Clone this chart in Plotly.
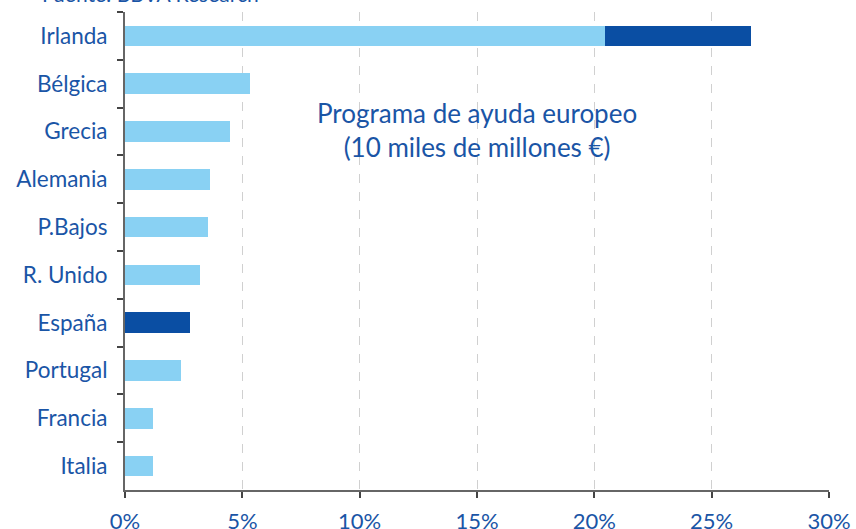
import plotly.graph_objects as go

countries = ["Irlanda", "Bélgica", "Grecia", "Alemania", "P.Bajos", "R. Unido",
             "España", "Portugal", "Francia", "Italia"]
base_pct = [20.45, 5.32, 4.48, 3.63, 3.55, 3.21, 0.0, 2.37, 1.19, 1.19]
highlight_pct = [6.22, 0.0, 0.0, 0.0, 0.0, 0.0, 2.78, 0.0, 0.0, 0.0]
x_ticks = [0, 5, 10, 15, 20, 25, 30]
x_tick_labels = ["0%", "5%", "10%", "15%", "20%", "25%", "30%"]

BLUE_TEXT = "#1a55a6"
LIGHT = "#89d1f3"
DARK = "#0a4ea3"
FONT = "Lato"

fig = go.Figure()
fig.add_trace(go.Bar(y=countries, x=base_pct, orientation="h",
                     marker=dict(color=LIGHT, line=dict(width=0)), width=0.43,
                     hoverinfo="x+y"))
fig.add_trace(go.Bar(y=countries, x=highlight_pct, orientation="h",
                     marker=dict(color=DARK, line=dict(width=0)), width=0.43,
                     hoverinfo="x+y"))

fig.update_layout(
    barmode="stack",
    width=856, height=529,
    margin=dict(l=125, r=27, t=12, b=39),
    plot_bgcolor="white", paper_bgcolor="white",
    showlegend=False,
    font=dict(family=FONT, color=BLUE_TEXT, size=22),
    xaxis=dict(range=[0, 30], tickvals=x_ticks, ticktext=x_tick_labels,
               automargin=False,
               showgrid=True, gridcolor="#d0d0d0", griddash="dash", gridwidth=1,
               zeroline=False, showline=True, linecolor="#666666", linewidth=2,
               ticks="outside", ticklen=6, tickcolor="#444444", tickwidth=1.5,
               ticklabelstandoff=5,
               tickfont=dict(family=FONT, size=22, color=BLUE_TEXT)),
    yaxis=dict(categoryorder="array", categoryarray=countries, autorange="reversed",
               automargin=False,
               showline=True, linecolor="#666666", linewidth=2,
               ticks="outside", tickson="boundaries", ticklen=6,
               tickcolor="#444444", tickwidth=1.5, showgrid=False,
               ticklabelstandoff=11,
               tickfont=dict(family=FONT, size=22.5, color=BLUE_TEXT)),
    annotations=[
        dict(text="Programa de ayuda europeo<br>(10 miles de millones €)",
             x=15.0, y=1.97, xref="x", yref="y", showarrow=False,
             font=dict(family=FONT, size=26, color=BLUE_TEXT), align="center"),
        dict(text="Fuente: BBVA Research", x=-85/704, xref="paper", xanchor="left",
             y=1, yref="paper", yanchor="bottom", yshift=4, showarrow=False,
             font=dict(family=FONT, size=21, color=BLUE_TEXT)),
    ],
)

fig.write_html("out.html",
               config={"displayModeBar": False},
               post_script="document.body.style.margin='0';document.body.style.overflow='hidden';")
